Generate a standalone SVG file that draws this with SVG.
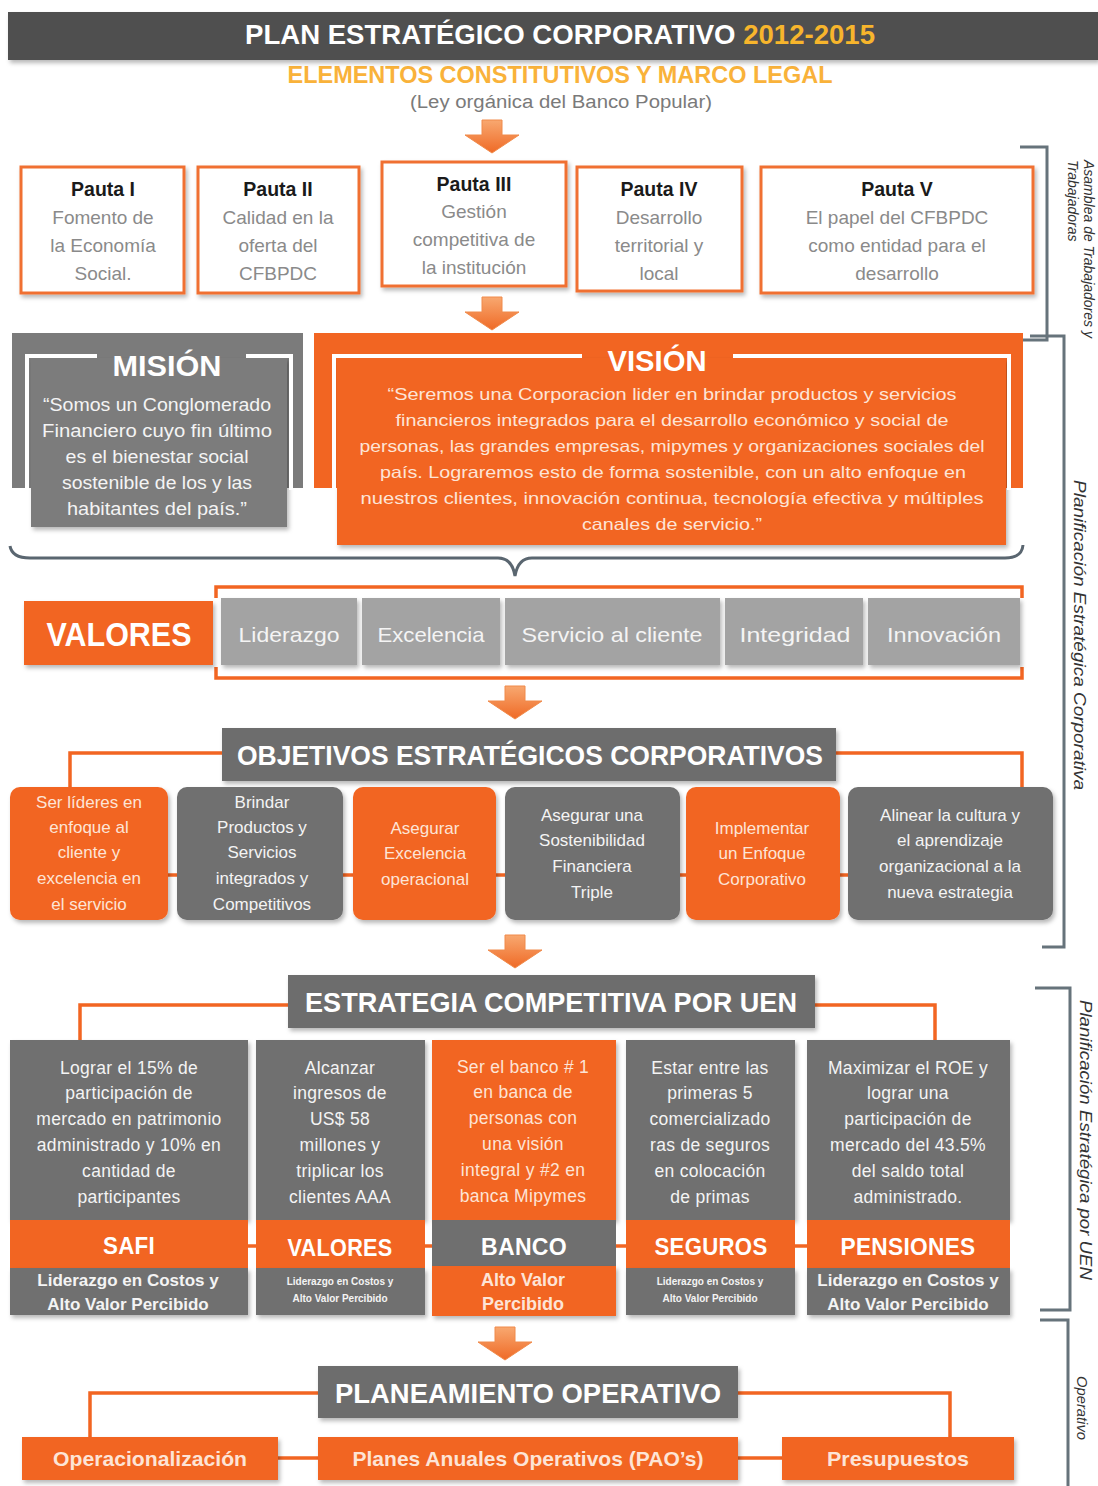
<svg xmlns="http://www.w3.org/2000/svg" width="1098" height="1486" viewBox="0 0 1098 1486">
<defs>
<style>
text{font-family:"Liberation Sans",Arial,sans-serif;}
.hd{font-weight:bold;fill:#ffffff;text-anchor:middle;}
.pt{font-size:19.5px;fill:#1a1a1a;font-weight:bold;text-anchor:middle;}
.pg{font-size:19px;fill:#8a8a8a;text-anchor:middle;}
.ow{fill:#fde4d6;text-anchor:middle;}
.gw{fill:#f4f4f4;text-anchor:middle;}
.ob{font-size:17px;}
.ub{font-size:17.5px;letter-spacing:0.3px;}
.or{fill:#f26522;}
.gr{fill:#6f6f6f;}
.pbox{fill:#ffffff;stroke:#f07030;stroke-width:3;}
.conn{fill:none;stroke:#f26522;stroke-width:3.5;}
.brk{fill:none;stroke:#66737b;stroke-width:3;}
.rl{font-style:italic;fill:#333;}
</style>
<linearGradient id="ag" x1="0" y1="0" x2="0" y2="1">
<stop offset="0" stop-color="#f8a870"/>
<stop offset="1" stop-color="#ef6a26"/>
</linearGradient>
<path id="arr" d="M-10 0 H10 V15 H27 L0 33 L-27 15 H-10 Z" fill="url(#ag)" stroke="#f08a4a" stroke-width="1"/>
<filter id="sh" x="-5%" y="-5%" width="115%" height="125%">
<feDropShadow dx="2" dy="3" stdDeviation="2" flood-color="#000" flood-opacity="0.28"/>
</filter>
</defs>
<rect width="1098" height="1486" fill="#ffffff"/>

<g id="title">
<text x="560" y="83" font-size="24" font-weight="bold" fill="#f9b23a" text-anchor="middle" textLength="545" lengthAdjust="spacingAndGlyphs">ELEMENTOS CONSTITUTIVOS Y MARCO LEGAL</text>
<rect x="8" y="12" width="1090" height="48" fill="#4f4f4f" filter="url(#sh)"/>
<text x="560" y="44" font-size="28" font-weight="bold" fill="#ffffff" text-anchor="middle" textLength="630" lengthAdjust="spacingAndGlyphs">PLAN ESTRATÉGICO CORPORATIVO <tspan fill="#f7b52c">2012-2015</tspan></text>
<text x="561" y="108" font-size="18" fill="#7a7a7a" text-anchor="middle" textLength="302" lengthAdjust="spacingAndGlyphs">(Ley orgánica del Banco Popular)</text>
</g>

<g id="arrows">
<use href="#arr" transform="translate(492,120)"/>
<use href="#arr" transform="translate(492,297)"/>
<use href="#arr" transform="translate(515,686)"/>
<use href="#arr" transform="translate(515,935)"/>
<use href="#arr" transform="translate(505,1327)"/>
</g>

<g id="connectors">
<path class="brk" d="M1020 147 H1047 V340 H1020"/>
<path class="brk" d="M1030 336 H1064 V947 H1042"/>
<path class="brk" d="M1035 988 H1070 V1310 H1040"/>
<path class="brk" d="M1040 1320 H1068 V1486"/>
<path fill="none" stroke="#5a6670" stroke-width="3" d="M10 546 Q12 558 30 558 L498 558 Q512 558 515 576 Q518 558 532 558 L1005 558 Q1022 558 1023 545"/>
<path class="conn" d="M216 598 V587 H1022 V598"/>
<path class="conn" d="M216 667 V678 H1022 V667"/>
<path class="conn" d="M222 753 H70 V790"/>
<path class="conn" d="M836 753 H1022 V790"/>
<path class="conn" d="M12 875 H1050"/>
<path class="conn" d="M288 1005 H80 V1042"/>
<path class="conn" d="M815 1005 H935 V1042"/>
<path class="conn" d="M12 1246 H1008"/>
<path class="conn" d="M318 1393 H90 V1440"/>
<path class="conn" d="M738 1393 H950 V1440"/>
<path class="conn" d="M270 1458 H790"/>
</g>

<g id="labels">
<text class="rl" font-size="14" transform="translate(1084,160) rotate(90)">Asamblea de Trabajadores y</text>
<text class="rl" font-size="14" transform="translate(1068,160) rotate(90)">Trabajadoras</text>
<text class="rl" font-size="17" text-anchor="middle" textLength="310" lengthAdjust="spacingAndGlyphs" transform="translate(1074,635) rotate(90)">Planificación Estratégica Corporativa</text>
<text class="rl" font-size="17" text-anchor="middle" textLength="280" lengthAdjust="spacingAndGlyphs" transform="translate(1080,1140) rotate(90)">Planificación Estratégica por UEN</text>
<text class="rl" font-size="14" text-anchor="middle" textLength="64" lengthAdjust="spacingAndGlyphs" transform="translate(1077,1408) rotate(90)">Operativo</text>
</g>

<g id="pauta1">
<rect class="pbox" x="21" y="167" width="163" height="126" filter="url(#sh)"/>
<text class="pt" x="103" y="196">Pauta I</text>
<text class="pg" x="103" y="224">Fomento de</text>
<text class="pg" x="103" y="252">la Economía</text>
<text class="pg" x="103" y="280">Social.</text>
</g>
<g id="pauta2">
<rect class="pbox" x="198" y="167" width="161" height="126" filter="url(#sh)"/>
<text class="pt" x="278" y="196">Pauta II</text>
<text class="pg" x="278" y="224">Calidad en la</text>
<text class="pg" x="278" y="252">oferta del</text>
<text class="pg" x="278" y="280">CFBPDC</text>
</g>
<g id="pauta3">
<rect class="pbox" x="382" y="162" width="184" height="124" filter="url(#sh)"/>
<text class="pt" x="474" y="191">Pauta III</text>
<text class="pg" x="474" y="218">Gestión</text>
<text class="pg" x="474" y="246">competitiva de</text>
<text class="pg" x="474" y="274">la institución</text>
</g>
<g id="pauta4">
<rect class="pbox" x="577" y="167" width="165" height="124" filter="url(#sh)"/>
<text class="pt" x="659" y="196">Pauta IV</text>
<text class="pg" x="659" y="224">Desarrollo</text>
<text class="pg" x="659" y="252">territorial y</text>
<text class="pg" x="659" y="280">local</text>
</g>
<g id="pauta5">
<rect class="pbox" x="761" y="167" width="272" height="126" filter="url(#sh)"/>
<text class="pt" x="897" y="196">Pauta V</text>
<text class="pg" x="897" y="224">El papel del CFBPDC</text>
<text class="pg" x="897" y="252">como entidad para el</text>
<text class="pg" x="897" y="280">desarrollo</text>
</g>

<g id="mision">
<rect x="12" y="333" width="291" height="155" fill="#7b7b7b"/>
<rect x="31" y="358" width="256" height="169" fill="#7b7b7b" filter="url(#sh)"/>
<path d="M97 356 H27 V490 M246 356 H291 V490" fill="none" stroke="#ffffff" stroke-width="4"/>
<text class="hd" x="167" y="376" font-size="30" textLength="109" lengthAdjust="spacingAndGlyphs">MISIÓN</text>
<g class="gw" font-size="17.5">
<text x="157" y="411" textLength="228" lengthAdjust="spacingAndGlyphs">“Somos un Conglomerado</text>
<text x="157" y="437" textLength="230" lengthAdjust="spacingAndGlyphs">Financiero cuyo fin último</text>
<text x="157" y="463" textLength="183" lengthAdjust="spacingAndGlyphs">es el bienestar social</text>
<text x="157" y="489" textLength="190" lengthAdjust="spacingAndGlyphs">sostenible de los y las</text>
<text x="157" y="515" textLength="180" lengthAdjust="spacingAndGlyphs">habitantes del país.”</text>
</g>
</g>

<g id="vision">
<rect x="314" y="333" width="709" height="155" fill="#f26522"/>
<rect x="337" y="358" width="669" height="187" fill="#f26522" filter="url(#sh)"/>
<path d="M582 356 H334 V490 M733 356 H1009 V490" fill="none" stroke="#ffffff" stroke-width="4"/>
<text class="hd" x="657" y="371" font-size="30" textLength="99" lengthAdjust="spacingAndGlyphs">VISIÓN</text>
<g class="ow" font-size="16.5">
<text x="672" y="400" textLength="569" lengthAdjust="spacingAndGlyphs">“Seremos una Corporacion lider en brindar productos y servicios</text>
<text x="672" y="426" textLength="553" lengthAdjust="spacingAndGlyphs">financieros integrados para el desarrollo económico y social de</text>
<text x="672" y="452" textLength="625" lengthAdjust="spacingAndGlyphs">personas, las grandes empresas, mipymes y organizaciones sociales del</text>
<text x="673" y="478" textLength="586" lengthAdjust="spacingAndGlyphs">país. Lograremos esto de forma sostenible, con un alto enfoque en</text>
<text x="672" y="504" textLength="623" lengthAdjust="spacingAndGlyphs">nuestros clientes, innovación continua, tecnología efectiva y múltiples</text>
<text x="672" y="530" textLength="180" lengthAdjust="spacingAndGlyphs">canales de servicio.”</text>
</g>
</g>

<g id="valores">
<rect x="24" y="601" width="189" height="64" fill="#f26522" filter="url(#sh)"/>
<text class="hd" x="119" y="646" font-size="34" font-weight="normal" textLength="145" lengthAdjust="spacingAndGlyphs">VALORES</text>
</g>
<g id="val-liderazgo"><rect x="221" y="598" width="136" height="67" fill="#a3a3a3" filter="url(#sh)"/><text class="gw" x="289" y="642" font-size="21" textLength="101" lengthAdjust="spacingAndGlyphs">Liderazgo</text></g>
<g id="val-excelencia"><rect x="362" y="598" width="138" height="67" fill="#a3a3a3" filter="url(#sh)"/><text class="gw" x="431" y="642" font-size="21" textLength="107" lengthAdjust="spacingAndGlyphs">Excelencia</text></g>
<g id="val-servicio"><rect x="505" y="598" width="215" height="67" fill="#a3a3a3" filter="url(#sh)"/><text class="gw" x="612" y="642" font-size="21" textLength="181" lengthAdjust="spacingAndGlyphs">Servicio al cliente</text></g>
<g id="val-integridad"><rect x="725" y="598" width="138" height="67" fill="#a3a3a3" filter="url(#sh)"/><text class="gw" x="795" y="642" font-size="21" textLength="111" lengthAdjust="spacingAndGlyphs">Integridad</text></g>
<g id="val-innovacion"><rect x="868" y="598" width="152" height="67" fill="#a3a3a3" filter="url(#sh)"/><text class="gw" x="944" y="642" font-size="21" textLength="114" lengthAdjust="spacingAndGlyphs">Innovación</text></g>

<g id="objetivos">
<rect x="222" y="728" width="614" height="53" fill="#6d6d6d" filter="url(#sh)"/>
<text class="hd" x="530" y="765" font-size="28" textLength="586" lengthAdjust="spacingAndGlyphs">OBJETIVOS ESTRATÉGICOS CORPORATIVOS</text>
</g>
<g id="obj1" class="ob">
<rect x="10" y="787" width="158" height="133" rx="10" fill="#f26522" filter="url(#sh)"/>
<text class="ow" x="89" y="808">Ser líderes en</text>
<text class="ow" x="89" y="833">enfoque al</text>
<text class="ow" x="89" y="858">cliente y</text>
<text class="ow" x="89" y="884">excelencia en</text>
<text class="ow" x="89" y="910">el servicio</text>
</g>
<g id="obj2" class="ob">
<rect x="177" y="787" width="166" height="133" rx="10" fill="#6f6f6f" filter="url(#sh)"/>
<text class="gw" x="262" y="808">Brindar</text>
<text class="gw" x="262" y="833">Productos y</text>
<text class="gw" x="262" y="858">Servicios</text>
<text class="gw" x="262" y="884">integrados y</text>
<text class="gw" x="262" y="910">Competitivos</text>
</g>
<g id="obj3" class="ob">
<rect x="353" y="787" width="143" height="133" rx="10" fill="#f26522" filter="url(#sh)"/>
<text class="ow" x="425" y="834">Asegurar</text>
<text class="ow" x="425" y="859">Excelencia</text>
<text class="ow" x="425" y="885">operacional</text>
</g>
<g id="obj4" class="ob">
<rect x="505" y="787" width="175" height="133" rx="10" fill="#6f6f6f" filter="url(#sh)"/>
<text class="gw" x="592" y="821">Asegurar una</text>
<text class="gw" x="592" y="846">Sostenibilidad</text>
<text class="gw" x="592" y="872">Financiera</text>
<text class="gw" x="592" y="898">Triple</text>
</g>
<g id="obj5" class="ob">
<rect x="686" y="787" width="154" height="133" rx="10" fill="#f26522" filter="url(#sh)"/>
<text class="ow" x="762" y="834">Implementar</text>
<text class="ow" x="762" y="859">un Enfoque</text>
<text class="ow" x="762" y="885">Corporativo</text>
</g>
<g id="obj6" class="ob">
<rect x="848" y="787" width="205" height="133" rx="10" fill="#6f6f6f" filter="url(#sh)"/>
<text class="gw" x="950" y="821">Alinear la cultura y</text>
<text class="gw" x="950" y="846">el aprendizaje</text>
<text class="gw" x="950" y="872">organizacional a la</text>
<text class="gw" x="950" y="898">nueva estrategia</text>
</g>

<g id="estrategia">
<rect x="288" y="975" width="527" height="53" fill="#6d6d6d" filter="url(#sh)"/>
<text class="hd" x="551" y="1012" font-size="28" textLength="492" lengthAdjust="spacingAndGlyphs">ESTRATEGIA COMPETITIVA POR UEN</text>
</g>

<g id="uen-safi" class="ub">
<rect x="10" y="1040" width="238" height="180" fill="#6f6f6f" filter="url(#sh)"/>
<rect x="10" y="1220" width="238" height="48" fill="#f26522"/>
<rect x="10" y="1268" width="238" height="47" fill="#6f6f6f" filter="url(#sh)"/>
<text class="gw" x="129" y="1074">Lograr el 15% de</text>
<text class="gw" x="129" y="1099">participación de</text>
<text class="gw" x="129" y="1125">mercado en patrimonio</text>
<text class="gw" x="129" y="1151">administrado y 10% en</text>
<text class="gw" x="129" y="1177">cantidad de</text>
<text class="gw" x="129" y="1203">participantes</text>
<text class="hd" x="129" y="1254" font-size="23" textLength="52" lengthAdjust="spacingAndGlyphs">SAFI</text>
<text class="gw" x="128" y="1286" font-size="17" letter-spacing="0" font-weight="bold">Liderazgo en Costos y</text>
<text class="gw" x="128" y="1310" font-size="17" letter-spacing="0" font-weight="bold">Alto Valor Percibido</text>
</g>
<g id="uen-valores" class="ub">
<rect x="256" y="1040" width="169" height="180" fill="#6f6f6f" filter="url(#sh)"/>
<rect x="256" y="1220" width="169" height="48" fill="#f26522"/>
<rect x="256" y="1268" width="169" height="47" fill="#6f6f6f" filter="url(#sh)"/>
<text class="gw" x="340" y="1074">Alcanzar</text>
<text class="gw" x="340" y="1099">ingresos de</text>
<text class="gw" x="340" y="1125">US$ 58</text>
<text class="gw" x="340" y="1151">millones y</text>
<text class="gw" x="340" y="1177">triplicar los</text>
<text class="gw" x="340" y="1203">clientes AAA</text>
<text class="hd" x="340" y="1256" font-size="23" textLength="105" lengthAdjust="spacingAndGlyphs">VALORES</text>
<text class="gw" x="340" y="1285" font-size="10" letter-spacing="0" font-weight="bold">Liderazgo  en Costos y</text>
<text class="gw" x="340" y="1302" font-size="10" letter-spacing="0" font-weight="bold">Alto Valor Percibido</text>
</g>
<g id="uen-banco" class="ub">
<rect x="432" y="1040" width="184" height="180" fill="#f26522" filter="url(#sh)"/>
<rect x="432" y="1220" width="184" height="46" fill="#6f6f6f"/>
<rect x="432" y="1266" width="184" height="50" fill="#f26522" filter="url(#sh)"/>
<text class="ow" x="523" y="1073">Ser el banco # 1</text>
<text class="ow" x="523" y="1098">en banca de</text>
<text class="ow" x="523" y="1124">personas con</text>
<text class="ow" x="523" y="1150">una visión</text>
<text class="ow" x="523" y="1176">integral y #2 en</text>
<text class="ow" x="523" y="1202">banca Mipymes</text>
<text class="hd" x="524" y="1255" font-size="23" font-weight="normal" textLength="86" lengthAdjust="spacingAndGlyphs">BANCO</text>
<text class="ow" x="523" y="1286" font-size="18" letter-spacing="0" font-weight="bold">Alto Valor</text>
<text class="ow" x="523" y="1310" font-size="18" letter-spacing="0" font-weight="bold">Percibido</text>
</g>
<g id="uen-seguros" class="ub">
<rect x="626" y="1040" width="169" height="180" fill="#6f6f6f" filter="url(#sh)"/>
<rect x="626" y="1220" width="169" height="48" fill="#f26522"/>
<rect x="626" y="1268" width="169" height="47" fill="#6f6f6f" filter="url(#sh)"/>
<text class="gw" x="710" y="1074">Estar entre las</text>
<text class="gw" x="710" y="1099">primeras 5</text>
<text class="gw" x="710" y="1125">comercializado</text>
<text class="gw" x="710" y="1151">ras de seguros</text>
<text class="gw" x="710" y="1177">en colocación</text>
<text class="gw" x="710" y="1203">de primas</text>
<text class="hd" x="711" y="1255" font-size="23" textLength="113" lengthAdjust="spacingAndGlyphs">SEGUROS</text>
<text class="gw" x="710" y="1285" font-size="10" letter-spacing="0" font-weight="bold">Liderazgo  en Costos y</text>
<text class="gw" x="710" y="1302" font-size="10" letter-spacing="0" font-weight="bold">Alto Valor Percibido</text>
</g>
<g id="uen-pensiones" class="ub">
<rect x="807" y="1040" width="203" height="180" fill="#6f6f6f" filter="url(#sh)"/>
<rect x="807" y="1220" width="203" height="48" fill="#f26522"/>
<rect x="807" y="1268" width="203" height="47" fill="#6f6f6f" filter="url(#sh)"/>
<text class="gw" x="908" y="1074">Maximizar el ROE y</text>
<text class="gw" x="908" y="1099">lograr una</text>
<text class="gw" x="908" y="1125">participación de</text>
<text class="gw" x="908" y="1151">mercado del 43.5%</text>
<text class="gw" x="908" y="1177">del saldo total</text>
<text class="gw" x="908" y="1203">administrado.</text>
<text class="hd" x="908" y="1255" font-size="23" textLength="135" lengthAdjust="spacingAndGlyphs">PENSIONES</text>
<text class="gw" x="908" y="1286" font-size="17" letter-spacing="0" font-weight="bold">Liderazgo en Costos y</text>
<text class="gw" x="908" y="1310" font-size="17" letter-spacing="0" font-weight="bold">Alto Valor Percibido</text>
</g>

<g id="planeamiento">
<rect x="318" y="1366" width="420" height="52" fill="#6d6d6d" filter="url(#sh)"/>
<text class="hd" x="528" y="1403" font-size="27" textLength="386" lengthAdjust="spacingAndGlyphs">PLANEAMIENTO OPERATIVO</text>
</g>
<g id="op1">
<rect x="22" y="1437" width="256" height="43" fill="#f26522" filter="url(#sh)"/>
<text class="ow" x="150" y="1466" font-size="21" font-weight="bold" textLength="194" lengthAdjust="spacingAndGlyphs">Operacionalización</text>
</g>
<g id="op2">
<rect x="318" y="1437" width="420" height="43" fill="#f26522" filter="url(#sh)"/>
<text class="ow" x="528" y="1466" font-size="21" font-weight="bold" textLength="351" lengthAdjust="spacingAndGlyphs">Planes Anuales Operativos (PAO’s)</text>
</g>
<g id="op3">
<rect x="782" y="1437" width="232" height="43" fill="#f26522" filter="url(#sh)"/>
<text class="ow" x="898" y="1466" font-size="21" font-weight="bold" textLength="142" lengthAdjust="spacingAndGlyphs">Presupuestos</text>
</g>
</svg>
